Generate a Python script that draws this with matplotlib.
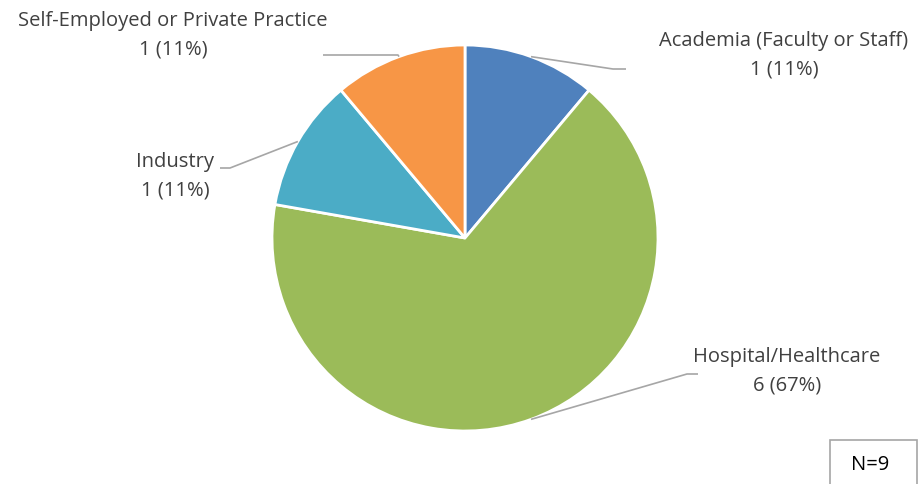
import numpy as np
import matplotlib.pyplot as plt
from matplotlib.patches import Rectangle

plt.rcParams['font.family'] = ['Open Sans', 'DejaVu Sans']

categories = ['Academia (Faculty or Staff)', 'Hospital/Healthcare', 'Industry',
              'Self-Employed or Private Practice']
counts = [1, 6, 1, 1]
percents = ['11%', '67%', '11%', '11%']
colors = ['#4F81BD', '#9BBB59', '#4BACC6', '#F79646']

W, H = 919, 484
fig = plt.figure(figsize=(W / 100, H / 100), dpi=100)
ax = fig.add_axes([0, 0, 1, 1])

cx, cy, r = 465, H - 238, 193
wedges, _ = ax.pie(counts, colors=colors, startangle=90, counterclock=False,
                   center=(cx, cy), radius=r, frame=True,
                   wedgeprops=dict(edgecolor='white', linewidth=2))
ax.set_xlim(0, W)
ax.set_ylim(0, H)
ax.set_aspect('equal')
ax.axis('off')

# label layout: (elbow x, elbow y, end x, text x, text y) in pixel coords (y from top)
layout = [
    (613, 69, 626, 784, 55),
    (687, 374, 698, 787, 371),
    (230, 168, 220, 175, 176),
    (398, 55, 323, 173, 35),
]
line_col = '#A6A6A6'
text_col = '#404040'
for w, cat, n, p, (ex, ey, tx, lx, ly) in zip(wedges, categories, counts, percents, layout):
    mid = np.deg2rad((w.theta1 + w.theta2) / 2)
    sx, sy = cx + r * np.cos(mid), cy + r * np.sin(mid)
    ax.plot([sx, ex, tx], [sy, H - ey, H - ey], color=line_col, lw=1.2,
            solid_capstyle='butt')
    ax.text(lx, H - ly, f'{cat}\n{n} ({p})', ha='center', va='center',
            fontsize=14.5, color=text_col, linespacing=1.55)

ax.add_patch(Rectangle((830, -5), 87, H - 440 + 5, facecolor='white',
                       edgecolor='#A6A6A6', lw=1.2))
ax.text(870, H - 465, 'N=9', ha='center', va='center', fontsize=14.5, color='black')

fig.savefig('out.png', dpi=100)
